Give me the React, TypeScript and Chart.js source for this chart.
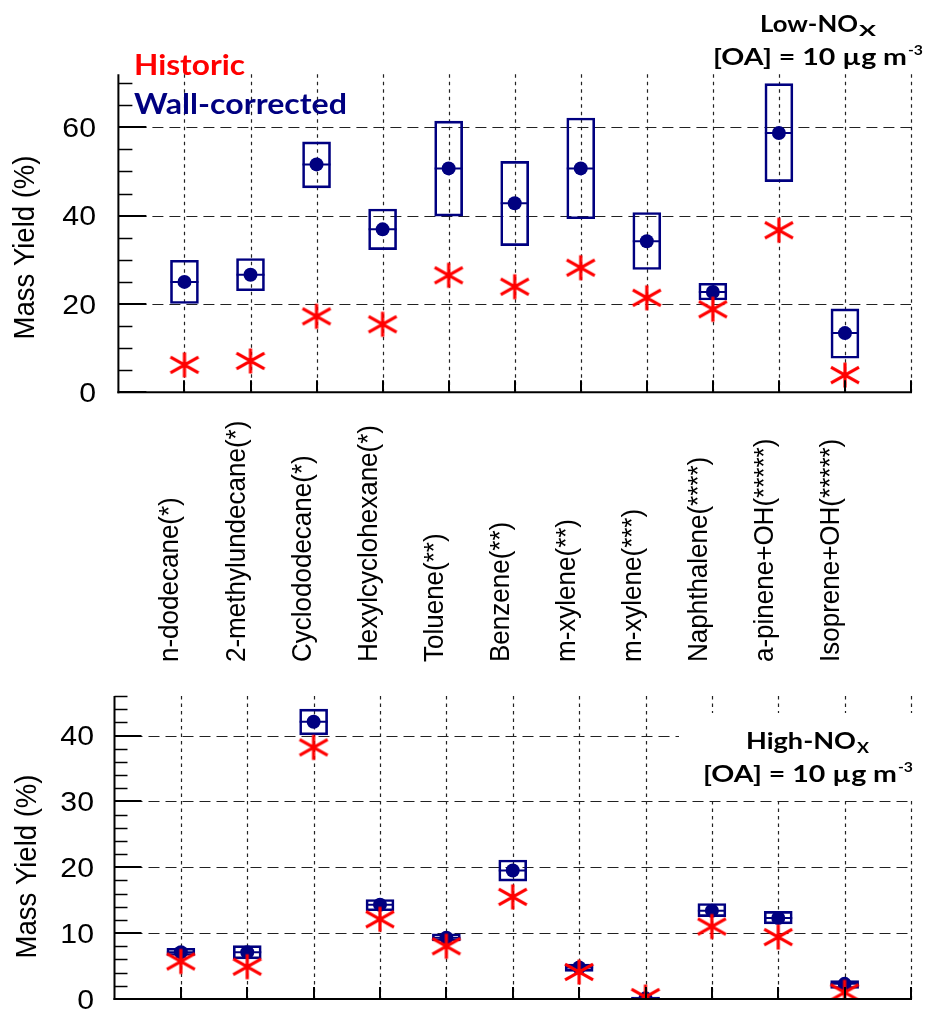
import React, { useEffect, useRef } from 'react';
import { Chart, registerables } from 'chart.js';

Chart.register(...registerables);

// ---------------- data ----------------
const categories = [
  'n-dodecane(*)',
  '2-methylundecane(*)',
  'Cyclododecane(*)',
  'Hexylcyclohexane(*)',
  'Toluene(**)',
  'Benzene(**)',
  'm-xylene(**)',
  'm-xylene(***)',
  'Naphthalene(****)',
  'a-pinene+OH(*****)',
  'Isoprene+OH(*****)',
];
const categorySlots = [1, 2, 3, 4, 5, 6, 7, 8, 9, 10, 11];
const gridSlots = [1, 2, 3, 4, 5, 6, 7, 8, 9, 10, 11, 12];

// Low-NOx panel
const lowWallMid = [25.0, 26.6, 51.6, 36.9, 50.7, 42.8, 50.7, 34.2, 22.7, 58.7, 13.4];
const lowWallLo = [20.1, 23.0, 46.3, 32.3, 39.9, 33.2, 39.3, 27.8, 20.9, 47.7, 7.7];
const lowWallHi = [29.9, 30.3, 56.7, 41.5, 61.4, 52.3, 62.1, 40.7, 24.7, 69.9, 18.9];
const lowHistoric = [6.2, 7.1, 17.2, 15.4, 26.5, 23.9, 28.2, 21.4, 18.8, 36.7, 3.9];

// High-NOx panel
const highWallMid = [7.1, 7.1, 42.1, 14.3, 9.3, 19.5, 4.8, 0.1, 13.4, 12.3, 2.3];
const highWallLo = [6.6, 6.1, 40.1, 13.4, 8.8, 17.9, 4.2, 0.0, 12.5, 11.4, 1.6];
const highWallHi = [7.7, 8.1, 44.0, 15.1, 9.9, 21.1, 5.3, 0.3, 14.5, 13.3, 2.8];
const highHistoric = [5.7, 4.9, 38.2, 12.1, 8.0, 15.5, 4.1, 0.3, 11.0, 9.4, 1.0];

// ticks
const lowYLabels = [0, 20, 40, 60];
const lowYMinor = [5, 10, 15, 25, 30, 35, 45, 50, 55, 65, 70];
const highYLabels = [0, 10, 20, 30, 40];
const highYMinor = [2, 4, 6, 8, 12, 14, 16, 18, 22, 24, 26, 28, 32, 34, 36, 38, 42, 44, 46];

const yTitle = 'Mass Yield (%)';

// ---------------- style ----------------
const NAVY = '#000080';
const RED = '#ff0000';
const GRID = '#222222';
const SANS = '"Liberation Sans", Arial, sans-serif';
const BOLD = 'Lato, "Open Sans", sans-serif';

function drawText(
  ctx: CanvasRenderingContext2D,
  s: string,
  x: number,
  y: number,
  font: string,
  color: string,
  align: 'left' | 'right' | 'center' = 'left',
  sx = 1,
  width?: number,
) {
  ctx.save();
  ctx.font = font;
  ctx.fillStyle = color;
  ctx.textBaseline = 'alphabetic';
  ctx.textAlign = 'left';
  const w = ctx.measureText(s).width;
  const k = width ? width / w : sx;
  const tw = w * k;
  const x0 = align === 'left' ? x : align === 'right' ? x - tw : x - tw / 2;
  ctx.translate(x0, y);
  ctx.scale(k, 1);
  ctx.fillText(s, 0, 0);
  ctx.restore();
  return tw;
}

function drawVText(
  ctx: CanvasRenderingContext2D,
  s: string,
  x: number,
  y: number,
  font: string,
  align: CanvasTextAlign,
  sy = 1,
) {
  ctx.save();
  ctx.translate(x, y);
  ctx.rotate(-Math.PI / 2);
  ctx.scale(1, sy);
  ctx.font = font;
  ctx.fillStyle = '#000';
  ctx.textAlign = align;
  ctx.textBaseline = 'alphabetic';
  ctx.fillText(s, 0, 0);
  ctx.restore();
}

function seg(ctx: CanvasRenderingContext2D, x1: number, y1: number, x2: number, y2: number) {
  ctx.beginPath();
  ctx.moveTo(x1, y1);
  ctx.lineTo(x2, y2);
  ctx.stroke();
}

function makeStar() {
  const c = document.createElement('canvas');
  c.width = 34;
  c.height = 34;
  const g = c.getContext('2d')!;
  g.strokeStyle = RED;
  g.lineWidth = 3.2;
  const cx = 17;
  const cy = 17;
  g.beginPath();
  g.moveTo(cx, cy - 12.5);
  g.lineTo(cx, cy + 12.5);
  g.moveTo(cx - 14, cy - 7.8);
  g.lineTo(cx + 14, cy + 7.8);
  g.moveTo(cx - 14, cy + 7.8);
  g.lineTo(cx + 14, cy - 7.8);
  g.stroke();
  return c;
}

type Panel = {
  yMax: number;
  pad: { left: number; right: number; top: number; bottom: number };
  mid: number[];
  lo: number[];
  hi: number[];
  hist: number[];
  yLabels: number[];
  yMinor: number[];
  majorLen: number;
  minorLen: number;
  labelRight: number;
  titleX: number;
  titleY: number;
  whiteBox?: { x: number; y: number; w: number; h: number };
  extra: (ctx: CanvasRenderingContext2D, chart: any) => void;
};

function panelPlugin(p: Panel) {
  return {
    id: 'panelDecor',
    beforeDatasetsDraw(chart: any) {
      const { ctx, chartArea: a } = chart;
      const x = chart.scales.x;
      const y = chart.scales.y;
      ctx.save();
      ctx.strokeStyle = GRID;
      ctx.lineWidth = 1.2;
      ctx.setLineDash([3.5, 4]);
      for (const v of gridSlots) {
        const px = Math.round(x.getPixelForValue(v)) + 0.5;
        seg(ctx, px, a.top, px, a.bottom);
      }
      ctx.setLineDash([11, 6]);
      for (const v of p.yLabels) {
        if (v <= 0) continue;
        const py = Math.round(y.getPixelForValue(v)) + 0.5;
        seg(ctx, a.left, py, a.right, py);
      }
      ctx.setLineDash([]);
      if (p.whiteBox) {
        ctx.fillStyle = '#ffffff';
        ctx.fillRect(p.whiteBox.x, p.whiteBox.y, p.whiteBox.w, p.whiteBox.h);
      }
      ctx.restore();
    },
    afterDatasetsDraw(chart: any) {
      const { ctx, chartArea: a } = chart;
      const x = chart.scales.x;
      const y = chart.scales.y;
      ctx.save();
      ctx.strokeStyle = '#000';
      // minor y ticks
      ctx.lineWidth = 1.5;
      for (const v of p.yMinor) {
        const py = Math.round(y.getPixelForValue(v)) + 0.5;
        seg(ctx, a.left, py, a.left + p.minorLen, py);
      }
      // major y ticks
      ctx.lineWidth = 2;
      for (const v of p.yLabels) {
        const py = Math.round(y.getPixelForValue(v));
        seg(ctx, a.left, py, a.left + p.majorLen, py);
      }
      // x ticks
      for (const v of gridSlots) {
        const px = Math.round(x.getPixelForValue(v));
        seg(ctx, px, a.bottom, px, a.bottom - 12);
      }
      // axes
      seg(ctx, a.left, a.top, a.left, a.bottom + 1);
      seg(ctx, a.left - 1, a.bottom, a.right + 1, a.bottom);
      ctx.restore();

      // tick labels
      for (const v of p.yLabels) {
        const py = y.getPixelForValue(v);
        drawText(ctx, String(v), p.labelRight, py + 9.6, `27px ${SANS}`, '#000', 'right', 1.12);
      }
      drawVText(ctx, yTitle, p.titleX, p.titleY, `27.5px ${SANS}`, 'center', 1.1);
      p.extra(ctx, chart);
    },
  };
}

function buildConfig(p: Panel, star: HTMLCanvasElement): any {
  const pts = (vals: number[]) => categorySlots.map((xv, i) => ({ x: xv, y: vals[i] }));
  return {
    type: 'scatter',
    data: {
      datasets: [
        {
          type: 'scatter',
          label: 'Historic',
          data: pts(p.hist),
          pointStyle: star,
          pointRadius: 13,
          showLine: false,
          clip: 0,
          order: 1,
        },
        {
          type: 'scatter',
          label: 'Wall-corrected',
          data: pts(p.mid),
          pointStyle: 'circle',
          pointRadius: 7,
          pointBackgroundColor: NAVY,
          pointBorderColor: NAVY,
          pointBorderWidth: 0,
          showLine: false,
          clip: 0,
          order: 2,
        },
        {
          type: 'scatter',
          label: 'Wall-corrected median',
          data: pts(p.mid),
          pointStyle: 'line',
          pointRadius: 14,
          pointBorderColor: NAVY,
          pointBorderWidth: 2,
          showLine: false,
          clip: 0,
          order: 3,
        },
        {
          type: 'bar',
          label: 'Wall-corrected range',
          data: categorySlots.map((xv, i) => ({ x: xv, y: [p.lo[i], p.hi[i]] })),
          backgroundColor: 'rgba(0,0,0,0)',
          borderColor: NAVY,
          borderWidth: 2,
          borderSkipped: false,
          barThickness: 28,
          grouped: false,
          clip: 0,
          order: 4,
        },
      ],
    },
    options: {
      responsive: false,
      animation: false,
      devicePixelRatio: 1,
      events: [],
      layout: { padding: p.pad },
      plugins: { legend: { display: false }, tooltip: { enabled: false } },
      scales: {
        x: { type: 'linear', min: 0, max: 12, display: false, offset: false },
        y: { type: 'linear', min: 0, max: p.yMax, display: false },
      },
    },
    plugins: [panelPlugin(p)],
  };
}

const lowPanel: Panel = {
  yMax: 72,
  pad: { left: 118.4, right: 1, top: 74.3, bottom: 287.7 },
  mid: lowWallMid,
  lo: lowWallLo,
  hi: lowWallHi,
  hist: lowHistoric,
  yLabels: lowYLabels,
  yMinor: lowYMinor,
  majorLen: 28,
  minorLen: 14,
  labelRight: 96,
  titleX: 34,
  titleY: 247.5,
  extra: (ctx, chart) => {
    const x = chart.scales.x;
    categorySlots.forEach((v, i) => {
      const px = x.getPixelForValue(v);
      drawVText(ctx, categories[i], px - 6, 662, `26px ${SANS}`, 'left', 1.08);
    });
    drawText(ctx, 'Historic', 134, 75, `bold 28px ${BOLD}`, RED, 'left', 1, 111);
    drawText(ctx, 'Wall-corrected', 134, 114, `bold 28px ${BOLD}`, NAVY, 'left', 1, 213);
    drawText(ctx, 'Low-NO', 760, 31.7, `bold 23px ${BOLD}`, '#000', 'left', 1, 98);
    drawText(ctx, 'X', 859, 36, `bold 15px ${BOLD}`, '#000', 'left', 1, 17);
    drawText(ctx, '[OA] = 10 \u00b5g m', 713, 64.5, `bold 23px ${BOLD}`, '#000', 'left', 1, 194);
    drawText(ctx, '-3', 908, 55, `bold 14px ${BOLD}`, '#000', 'left', 1, 15);
  },
};

const highPanel: Panel = {
  yMax: 46,
  pad: { left: 114.5, right: 14.3, top: 12, bottom: 9 },
  mid: highWallMid,
  lo: highWallLo,
  hi: highWallHi,
  hist: highHistoric,
  yLabels: highYLabels,
  yMinor: highYMinor,
  majorLen: 27,
  minorLen: 13,
  labelRight: 94,
  titleX: 36,
  titleY: 186.5,
  whiteBox: { x: 679, y: 33, w: 248, h: 86 },
  extra: (ctx) => {
    drawText(ctx, 'High-NO', 746, 68.5, `bold 23px ${BOLD}`, '#000', 'left', 1, 110);
    drawText(ctx, 'X', 857, 72.5, `bold 15px ${BOLD}`, '#000', 'left', 1, 12);
    drawText(ctx, '[OA] = 10 \u00b5g m', 703, 101.5, `bold 23px ${BOLD}`, '#000', 'left', 1, 194);
    drawText(ctx, '-3', 898, 92, `bold 14px ${BOLD}`, '#000', 'left', 1, 15);
  },
};

export default function App() {
  const topRef = useRef<HTMLCanvasElement>(null);
  const botRef = useRef<HTMLCanvasElement>(null);

  useEffect(() => {
    const star = makeStar();
    const c1 = new Chart(topRef.current!, buildConfig(lowPanel, star));
    const c2 = new Chart(botRef.current!, buildConfig(highPanel, star));
    return () => {
      c1.destroy();
      c2.destroy();
    };
  }, []);

  return (
    <div style={{ position: 'absolute', left: 0, top: 0, width: 927, height: 1015, background: '#fff' }}>
      <canvas
        ref={topRef}
        width={927}
        height={680}
        style={{ position: 'absolute', left: 0, top: 0, width: 927, height: 680 }}
      />
      <canvas
        ref={botRef}
        width={927}
        height={335}
        style={{ position: 'absolute', left: 0, top: 680, width: 927, height: 335 }}
      />
    </div>
  );
}
